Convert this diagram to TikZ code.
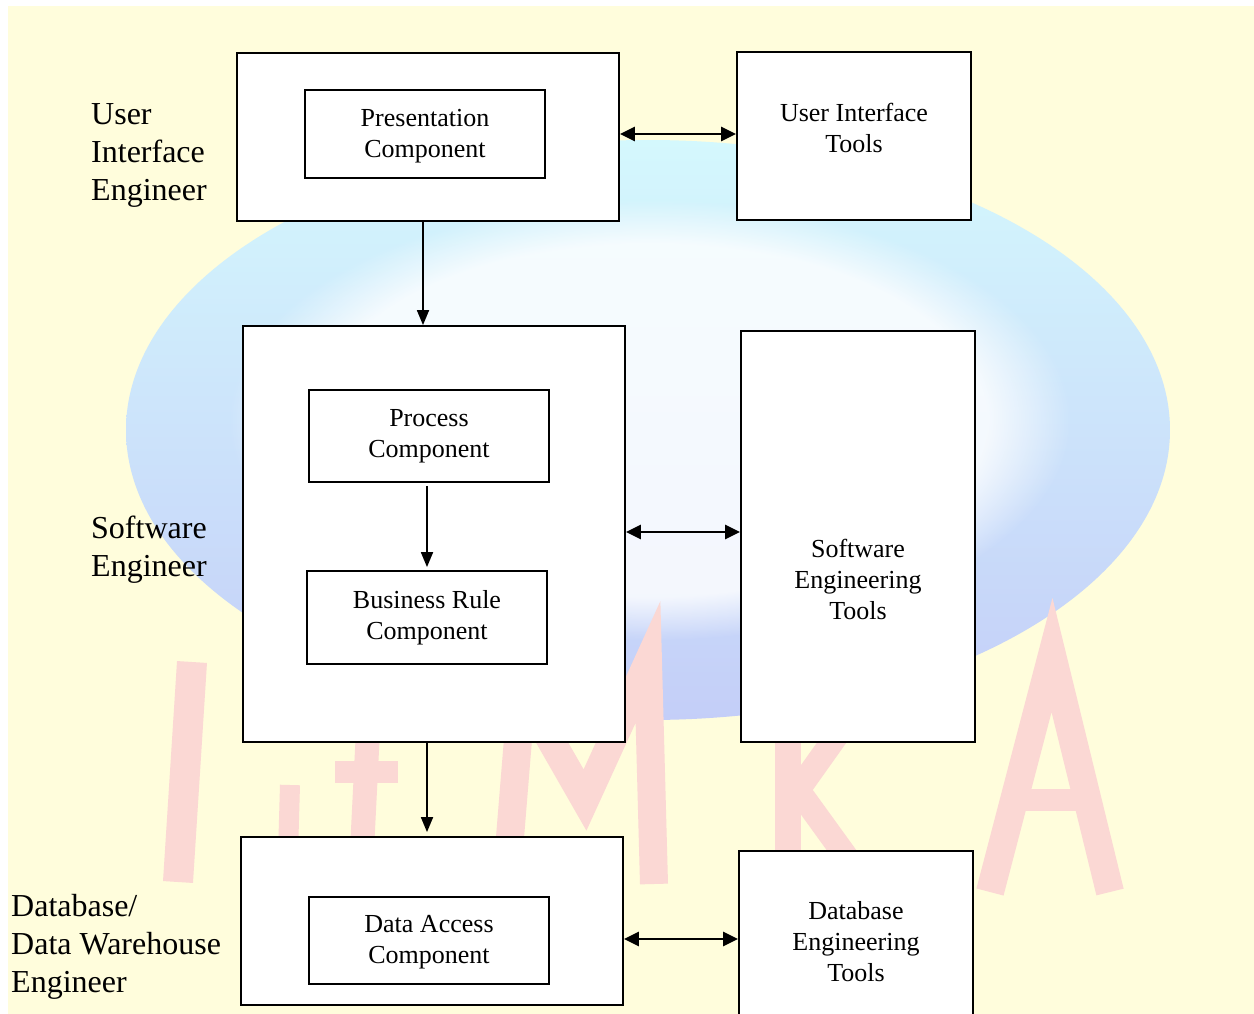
\documentclass[tikz,border=0pt]{standalone}
\usepackage{fontspec}
\setmainfont{Liberation Serif}
\usetikzlibrary{arrows.meta,fadings}
\definecolor{bgyellow}{RGB}{255,253,220}
\definecolor{globetop}{RGB}{212,248,253}
\definecolor{globebot}{RGB}{196,206,248}
\definecolor{wmpink}{RGB}{251,216,212}
\begin{document}
\begin{tikzpicture}[x=1pt,y=-1pt,
  box/.style={draw=black,line width=1.8pt,fill=white,inner sep=0pt},
  txt/.style={font=\fontsize{26}{31}\selectfont,align=center,inner sep=0pt},
  lbl/.style={font=\fontsize{32}{38}\selectfont,align=left,anchor=west,inner sep=0pt},
  arr/.style={line width=1.8pt,-{Triangle[length=15pt,width=12pt]}},
  darr/.style={line width=2.4pt,{Triangle[length=15pt,width=14pt]}-{Triangle[length=15pt,width=14pt]}},
  wm/.style={line width=30pt,draw=wmpink,line cap=butt,line join=miter}]
\useasboundingbox (0,0) rectangle (1254,1014);
\clip (0,0) rectangle (1254,1014);
% background watermark
\fill[white] (0,0) rectangle (1254,1014);
\fill[bgyellow] (8,6) rectangle (1254,1014);
\shade[top color=globetop,bottom color=globebot] (648,430) ellipse [x radius=522, y radius=290];
\fill[white,path fading=circle with fuzzy edge 20 percent,opacity=0.8] (650,420) ellipse [x radius=420, y radius=220];
% pink letters
\draw[wm] (192,662) -- (178,882);
\draw[wm,line width=20pt] (290,785) -- (288,855);
\draw[wm,line width=24pt] (368,730) -- (362,850);
\draw[wm,line width=22pt] (335,772) -- (398,772);
\draw[wm,line width=28pt] (508,862) -- (522,690) -- (585,800) -- (648,662) -- (654,884);
\draw[wm,line width=26pt] (788,690) -- (788,884);
\draw[wm,line width=24pt] (862,700) -- (798,790) -- (866,884);
\draw[wm,line width=28pt] (990,892) -- (1052,655) -- (1110,892);
\draw[wm,line width=22pt] (1012,800) -- (1090,800);
% helper coordinates
\coordinate (cxa) at (423,0);
\coordinate (cxb) at (427,0);
\coordinate (cya) at (0,134);
\coordinate (cyb) at (0,532);
\coordinate (cyc) at (0,939);
% boxes
\node[box,minimum width=382pt,minimum height=168pt] (uio) at (428,137) {};
\node[box,txt,minimum width=240pt,minimum height=88pt] (pres) at (425,134) {};
\node[txt] (prest) at (425,136) {Presentation\\Component};
\node[box,minimum width=234pt,minimum height=168pt] (uit) at (854,136) {};
\node[txt] (uitt) at (854,128) {User Interface\\Tools};
\node[box,minimum width=382pt,minimum height=416pt] (swo) at (434,534) {};
\node[box,txt,minimum width=240pt,minimum height=92pt] (proc) at (429,436) {Process\\Component};
\node[box,txt,minimum width=240pt,minimum height=93pt] (brule) at (427,617.5) {Business Rule\\Component};
\node[box,minimum width=234pt,minimum height=411pt] (set) at (858,536.5) {};
\node[txt] (sett) at (858,579) {Software\\Engineering\\Tools};
\node[box,minimum width=382pt,minimum height=168pt] (dao) at (432,921) {};
\node[box,txt,minimum width=240pt,minimum height=87pt] (dac) at (429,940.5) {};
\node[txt] (dact) at (429,942) {Data Access\\Component};
\node[box,minimum width=234pt,minimum height=190pt] (dbt) at (856,946) {};
\node[txt] (dbtt) at (856,942) {Database\\Engineering\\Tools};
% side labels
\node[lbl] (l1) at (91,155) {User\\Interface\\Engineer};
\node[lbl] (l2) at (91,550) {Software\\Engineer};
\node[lbl] (l3) at (11,947) {Database/\\Data Warehouse\\Engineer};
% connectors
\draw[arr] (uio.south -| cxa) -- (swo.north -| cxa);
\draw[arr,shorten <=3pt,shorten >=3pt] (proc.south -| cxb) -- (brule.north -| cxb);
\draw[arr,shorten >=4pt] (swo.south -| cxb) -- (dao.north -| cxb);
\draw[darr] (uio.east |- cya) -- (uit.west |- cya);
\draw[darr] (swo.east |- cyb) -- (set.west |- cyb);
\draw[darr] (dao.east |- cyc) -- (dbt.west |- cyc);
\end{tikzpicture}
\end{document}
